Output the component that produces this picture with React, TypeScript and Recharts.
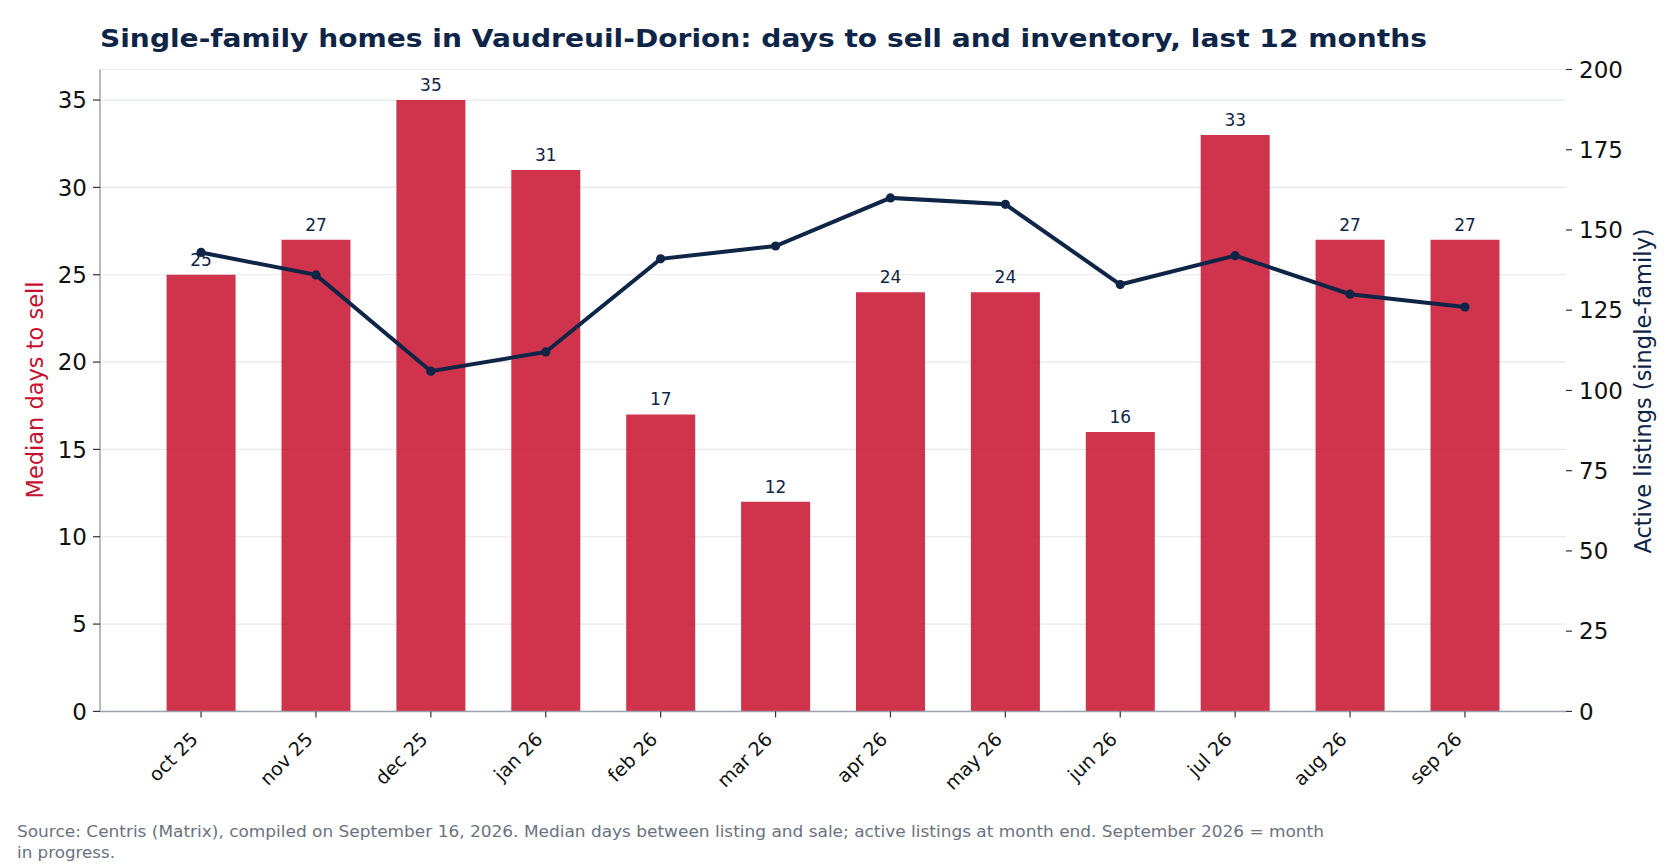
import React from "react";
import {
  ComposedChart,
  Bar,
  Line,
  XAxis,
  YAxis,
  CartesianGrid,
  LabelList,
} from "recharts";

// Chart values
const months = [
  "oct 25", "nov 25", "dec 25", "jan 26", "feb 26", "mar 26",
  "apr 26", "may 26", "jun 26", "jul 26", "aug 26", "sep 26",
];
const daysToSell = [25, 27, 35, 31, 17, 12, 24, 24, 16, 33, 27, 27];
const activeListings = [143, 136, 106, 112, 141, 145, 160, 158, 133, 142, 130, 126];
const leftTicks = [0, 5, 10, 15, 20, 25, 30, 35];
const rightTicks = [0, 25, 50, 75, 100, 125, 150, 175, 200];

const data = months.map((month, i) => ({
  month,
  days: daysToSell[i],
  listings: activeListings[i],
}));

const FONT = '"DejaVu Sans", sans-serif';
const NAVY = "#0f2547";
const RED = "#c8102e";
const SPINE = "#9ca3af";

const W = 1680;
const H = 868;

// rotated month labels, right end of text sitting under the tick
const MonthTick = (props: any) => {
  const { x, y, payload } = props;
  return (
    <g transform={`translate(${x - 2},${y + 23})`}>
      <text
        x={0}
        y={0}
        textAnchor="end"
        transform="rotate(-45)"
        fontFamily={FONT}
        fontSize={19}
        fill="#111"
      >
        {payload.value}
      </text>
    </g>
  );
};

const renderBarLabel = (props: any) => {
  const { x, y, width, value } = props;
  return (
    <text
      x={x + width / 2}
      y={y - 9}
      textAnchor="middle"
      fontFamily={FONT}
      fontSize={17}
      fill={NAVY}
    >
      {value}
    </text>
  );
};

export default function App() {
  return (
    <div
      style={{
        position: "absolute",
        left: 0,
        top: 0,
        width: W,
        height: H,
        background: "#fff",
        fontFamily: FONT,
      }}
    >
      <ComposedChart
        width={W}
        height={H}
        data={data}
        margin={{ top: 69.5, right: 0, bottom: 56.6, left: 0 }}
      >
        <CartesianGrid
          yAxisId="left"
          vertical={false}
          stroke="#e5e7eb"
          strokeWidth={1.2}
        />
        <XAxis
          dataKey="month"
          interval={0}
          height={100}
          padding={{ left: 43.6, right: 43.6 }}
          tickSize={6}
          tickMargin={0}
          tickLine={{ stroke: "#333", strokeWidth: 1.2 }}
          axisLine={{ stroke: SPINE, strokeWidth: 1.5 }}
          tick={<MonthTick />}
        />
        <YAxis
          yAxisId="left"
          domain={[0, 36.75]}
          ticks={leftTicks}
          allowDataOverflow
          width={100}
          tickSize={7}
          tickMargin={6}
          tickLine={{ stroke: "#333", strokeWidth: 1.2 }}
          axisLine={{ stroke: SPINE, strokeWidth: 1.5 }}
          tick={{ fill: "#111", fontSize: 23, fontFamily: FONT }}
        />
        <YAxis
          yAxisId="right"
          orientation="right"
          domain={[0, 200]}
          ticks={rightTicks}
          allowDataOverflow
          width={114}
          tickSize={6}
          tickMargin={7}
          axisLine={false}
          tickLine={{ stroke: "#333", strokeWidth: 1.2 }}
          tick={{ fill: "#111", fontSize: 23, fontFamily: FONT }}
        />
        <Bar
          yAxisId="left"
          dataKey="days"
          barSize={69}
          fill={RED}
          fillOpacity={0.85}
          isAnimationActive={false}
        >
          <LabelList dataKey="days" content={renderBarLabel} />
        </Bar>
        <Line
          yAxisId="right"
          type="linear"
          dataKey="listings"
          stroke={NAVY}
          strokeWidth={4}
          dot={{ r: 4.6, fill: NAVY, stroke: NAVY, strokeWidth: 0 }}
          activeDot={false}
          isAnimationActive={false}
        />
      </ComposedChart>

      {/* title, axis titles and source note */}
      <svg
        width={W}
        height={H}
        style={{ position: "absolute", left: 0, top: 0, pointerEvents: "none" }}
      >
        <text
          x={100}
          y={46.5}
          textLength={1327}
          lengthAdjust="spacingAndGlyphs"
          fontFamily={FONT}
          fontWeight="bold"
          fontSize={25.5}
          fill={NAVY}
        >
          Single-family homes in Vaudreuil-Dorion: days to sell and inventory, last 12 months
        </text>
        <text
          x={35}
          y={390}
          transform="rotate(-90 35 390)"
          textAnchor="middle"
          dominantBaseline="central"
          fontFamily={FONT}
          fontSize={22.5}
          fill={RED}
        >
          Median days to sell
        </text>
        <text
          x={1643}
          y={391}
          transform="rotate(-90 1643 391)"
          textAnchor="middle"
          dominantBaseline="central"
          fontFamily={FONT}
          fontSize={22.5}
          fill={NAVY}
        >
          Active listings (single-family)
        </text>
        <text
          x={17}
          y={837}
          textLength={1307}
          lengthAdjust="spacingAndGlyphs"
          fontFamily={FONT}
          fontSize={15.5}
          fill="#6b7280"
        >
          Source: Centris (Matrix), compiled on September 16, 2026. Median days between listing and sale; active listings at month end. September 2026 = month
        </text>
        <text
          x={17}
          y={858}
          textLength={98}
          lengthAdjust="spacingAndGlyphs"
          fontFamily={FONT}
          fontSize={15.5}
          fill="#6b7280"
        >
          in progress.
        </text>
      </svg>
    </div>
  );
}
